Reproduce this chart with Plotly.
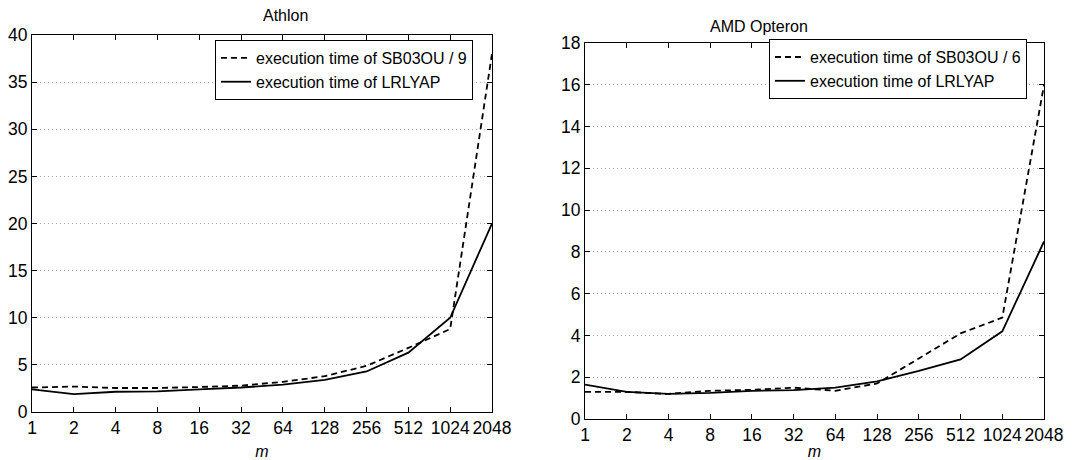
import plotly.graph_objects as go
from plotly.subplots import make_subplots

# --- data ---
M = [1, 2, 4, 8, 16, 32, 64, 128, 256, 512, 1024, 2048]
TICK_TEXT = [str(v) for v in M]

ATHLON_SB03OU = [2.6, 2.7, 2.55, 2.55, 2.65, 2.8, 3.2, 3.8, 4.9, 6.8, 8.8, 38.0]
ATHLON_LRLYAP = [2.4, 1.9, 2.15, 2.2, 2.4, 2.6, 2.9, 3.4, 4.3, 6.3, 10.0, 20.0]

OPTERON_SB03OU = [1.3, 1.3, 1.2, 1.35, 1.4, 1.5, 1.35, 1.7, 2.9, 4.1, 4.85, 16.0]
OPTERON_LRLYAP = [1.65, 1.3, 1.2, 1.25, 1.35, 1.38, 1.5, 1.8, 2.3, 2.85, 4.2, 8.5]

TITLES = ["Athlon", "AMD Opteron"]
FONT = "Liberation Sans, Arial, sans-serif"

fig = make_subplots(rows=1, cols=2)

panels = [
    (ATHLON_SB03OU, ATHLON_LRLYAP, "execution time of SB03OU / 9", "legend"),
    (OPTERON_SB03OU, OPTERON_LRLYAP, "execution time of SB03OU / 6", "legend2"),
]
for i, (sb, lr, sb_name, lg) in enumerate(panels, start=1):
    fig.add_trace(go.Scatter(x=M, y=sb, mode="lines", name=sb_name, legend=lg,
                             line=dict(color="black", width=1.8, dash="6px,4px")), row=1, col=i)
    fig.add_trace(go.Scatter(x=M, y=lr, mode="lines", name="execution time of LRLYAP", legend=lg,
                             line=dict(color="black", width=1.8)), row=1, col=i)

axis_common = dict(showline=True, linecolor="black", linewidth=1.2, mirror="ticks",
                   ticks="inside", ticklen=5, tickcolor="black", zeroline=False,
                   automargin=False, tickangle=0,
                   tickfont=dict(family=FONT, size=17.5, color="black"))

for i, standoff in ((1, 12), (2, 1)):
    fig.update_xaxes(type="log", range=[0, 3.3113], tickvals=M, ticktext=TICK_TEXT,
                     showgrid=False,
                     title=dict(text="<i>m</i>", standoff=standoff,
                                font=dict(family=FONT, size=16, color="black")),
                     **axis_common, row=1, col=i)

grid = dict(showgrid=True, gridcolor="#aaaaaa", griddash="1px,3px", gridwidth=1)
fig.update_yaxes(range=[0, 40], dtick=5, **grid, **axis_common, row=1, col=1)
fig.update_yaxes(range=[0, 18], dtick=2, **grid, **axis_common, row=1, col=2)

legend_style = dict(xanchor="left", yanchor="top", bgcolor="white", bordercolor="black",
                    borderwidth=1, font=dict(family=FONT, size=16), itemwidth=30,
                    tracegroupgap=0)

fig.update_layout(
    width=1082, height=460,
    margin=dict(l=0, r=0, t=0, b=0, autoexpand=False),
    plot_bgcolor="white", paper_bgcolor="white",
    font=dict(family=FONT, color="black"),
    xaxis=dict(domain=[0.0296, 0.4547]),
    xaxis2=dict(domain=[0.5407, 0.9649]),
    yaxis=dict(domain=[0.1043, 0.9239]),
    yaxis2=dict(domain=[0.0891, 0.9065]),
    legend=dict(x=0.1987, y=0.913, **legend_style),
    legend2=dict(x=0.7107, y=0.915, **legend_style),
    annotations=[
        dict(text=TITLES[0], x=0.2412, y=1 - 15 / 460, xref="paper", yref="paper",
             yanchor="middle", showarrow=False, font=dict(family=FONT, size=16)),
        dict(text=TITLES[1], x=0.7487, y=1 - 26 / 460, xref="paper", yref="paper",
             yanchor="middle", showarrow=False, font=dict(family=FONT, size=16)),
    ],
)

# page body has a default 8px margin; drop it so the figure fills the window
fig.write_html("out.html", config={"displayModeBar": False},
               post_script="document.body.style.margin='0';")
